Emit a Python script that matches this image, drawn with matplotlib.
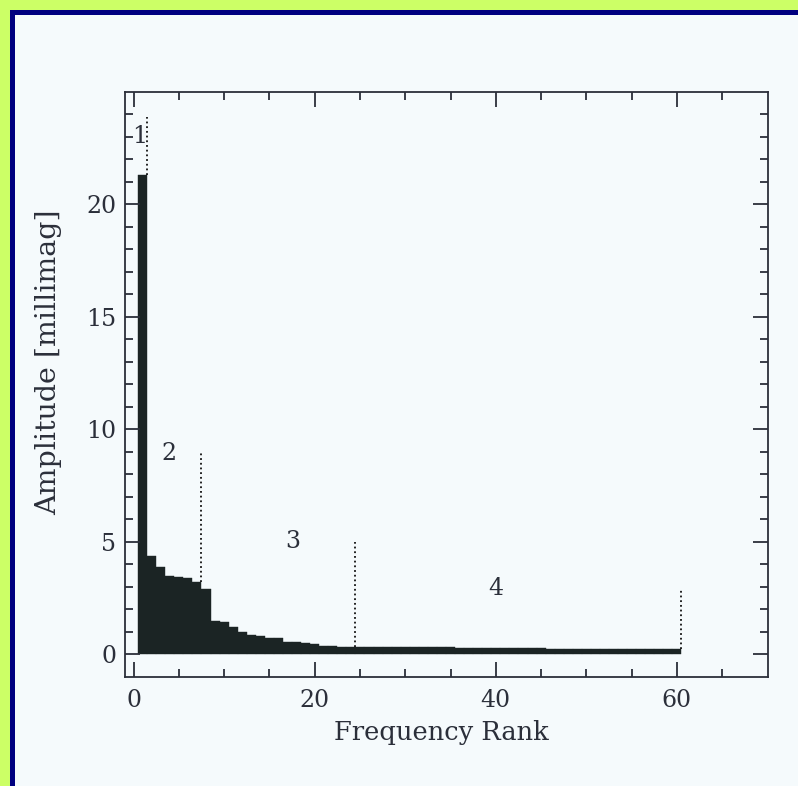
import numpy as np
import matplotlib
matplotlib.use("Agg")
import matplotlib.pyplot as plt
from matplotlib.patches import Rectangle
from matplotlib.ticker import FixedLocator

# amplitude of each frequency, ordered by rank
rank = np.arange(1, 61)
amp = np.array([
    21.3, 4.34, 3.86, 3.46, 3.42, 3.37, 3.22, 2.90, 1.45, 1.44,
    1.18, 0.96, 0.86, 0.80, 0.72, 0.71, 0.54, 0.52, 0.47, 0.44,
    0.37, 0.36, 0.33, 0.32, 0.31, 0.31, 0.30, 0.30, 0.30, 0.30,
    0.30, 0.30, 0.30, 0.30, 0.30, 0.27, 0.27, 0.27, 0.27, 0.27,
    0.27, 0.27, 0.27, 0.27, 0.27, 0.24, 0.24, 0.24, 0.24, 0.24,
    0.24, 0.24, 0.24, 0.24, 0.24, 0.21, 0.21, 0.21, 0.21, 0.21,
])

# group boundaries (dotted markers) and their top ends
cut_x = [1.5, 7.5, 24.5, 60.5]
cut_top = [23.9, 9.0, 5.0, 2.9]
cut_bottom = [21.3, 3.22, 0.32, 0.21]

grp_labels = ["1", "2", "3", "4"]
grp_x = [0.7, 3.9, 17.6, 40.0]
grp_y = [23.0, 8.9, 5.0, 2.9]

xmajor = [0, 20, 40, 60]
xminor = [5, 10, 15, 25, 30, 35, 45, 50, 55, 65]
ymajor = [0, 5, 10, 15, 20]
yminor = [1, 2, 3, 4, 6, 7, 8, 9, 11, 12, 13, 14, 16, 17, 18, 19, 21, 22, 23, 24]

paper = "#f5fafc"
ink = "#2b2f3a"
barc = "#1b2424"

plt.rcParams["font.family"] = ["DejaVu Serif"]

fig = plt.figure(figsize=(7.98, 7.86), dpi=100, facecolor=paper)

# frame strips along top and left edge
W, H = 798.0, 786.0
fig.patches.append(Rectangle((0, 0), 10 / W, 1, transform=fig.transFigure,
                             facecolor="#ccff66", edgecolor="none", zorder=0))
fig.patches.append(Rectangle((0, 1 - 10 / H), 1, 10 / H, transform=fig.transFigure,
                             facecolor="#ccff66", edgecolor="none", zorder=0))
fig.patches.append(Rectangle((10 / W, 0), 4.5 / W, 1 - 10 / H, transform=fig.transFigure,
                             facecolor="#000080", edgecolor="none", zorder=1))
fig.patches.append(Rectangle((10 / W, 1 - 14.5 / H), 1 - 10 / W, 4.5 / H, transform=fig.transFigure,
                             facecolor="#000080", edgecolor="none", zorder=1))

ax = fig.add_axes([124.5 / W, 1 - 676.5 / H, 643 / W, 584.5 / H])
ax.set_facecolor(paper)

ax.bar(rank, amp, width=1.0, color=barc, edgecolor=barc, linewidth=0.3)

for x0, y0, y1 in zip(cut_x, cut_bottom, cut_top):
    ax.plot([x0, x0], [y0, y1], color="#111111", lw=1.3,
            linestyle=(0, (1, 1.6)))

for s, x, y in zip(grp_labels, grp_x, grp_y):
    ax.text(x, y, s, fontsize=17, color=ink, ha="center", va="center")

ax.set_xlim(-1, 70)
ax.set_ylim(-1, 25)
ax.xaxis.set_major_locator(FixedLocator(xmajor))
ax.xaxis.set_minor_locator(FixedLocator(xminor))
ax.yaxis.set_major_locator(FixedLocator(ymajor))
ax.yaxis.set_minor_locator(FixedLocator(yminor))
ax.tick_params(which="both", direction="in", top=True, right=True,
               color=ink, width=1.3, labelsize=17, labelcolor=ink)
ax.tick_params(which="major", length=11, pad=9)
ax.tick_params(axis="y", which="major", pad=6)
ax.tick_params(which="minor", length=5.5)
for sp in ax.spines.values():
    sp.set_color(ink)
    sp.set_linewidth(1.3)

ax.set_xlabel("Frequency Rank", fontsize=18.5, color=ink)
ax.set_ylabel("Amplitude [millimag]", fontsize=20.5, color=ink)
ax.xaxis.set_label_coords(0.493, -0.075)
ax.yaxis.set_label_coords(-0.097, 0.538)

fig.savefig("out.png", dpi=100, facecolor=paper)
